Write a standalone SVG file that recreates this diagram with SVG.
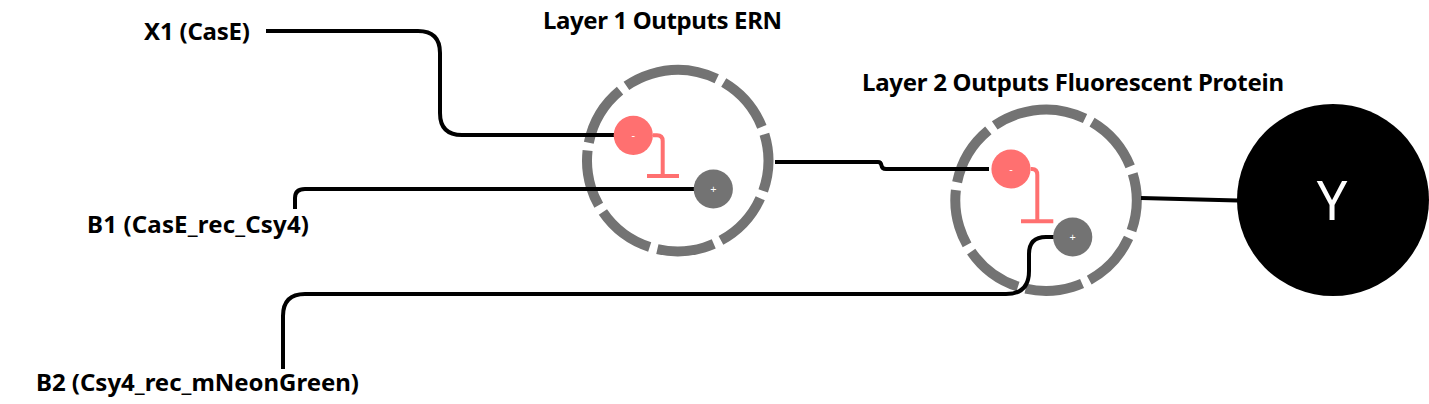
<svg xmlns="http://www.w3.org/2000/svg" width="1429" height="404" viewBox="0 0 1429 404">
<style>
.lbl{font-family:"Noto Sans","Open Sans",sans-serif;font-weight:700;font-size:24px;fill:#000}
.ring{fill:none;stroke:#737373;stroke-width:10;stroke-dasharray:36.5 5 37 5 36.5 5 37.5 5 36 5 39 5 60 5 37.5 5}
.wire{fill:none;stroke:#000;stroke-width:4}
.inh{fill:none;stroke:#ff7070;stroke-width:4}
.sign{font-family:"Noto Sans","Open Sans",sans-serif;font-size:11px;fill:#fff;text-anchor:middle}
</style>
<rect width="1429" height="404" fill="#fff"/>
<g id="layer1">
<circle class="ring" cx="677.7" cy="160.7" r="90.700" pathLength="360" transform="rotate(-17 677.7 160.7)"/>
<path class="inh" d="M653 135.3H657Q662.7 135.3 662.7 141V176"/>
<path class="inh" d="M647 176H679"/>
</g>
<g id="layer2">
<circle class="ring" cx="1046" cy="200.3" r="90.700" pathLength="360" transform="rotate(-17 1046 200.3)"/>
<path class="inh" d="M1030.7 169H1032Q1037.3 169 1037.3 175V221.3"/>
<path class="inh" d="M1021 221.3H1053.3"/>
</g>
<g id="connectors">
<path class="wire" d="M266 31H418Q440 31 440 53V113Q440 135 462 135H614"/>
<path class="wire" d="M295 209V198Q295 189 305 189H694"/>
<path class="wire" d="M775 162H878Q881 162 881.500 165.500Q882 169 886 169H989"/>
<path class="wire" d="M1141 198L1238 200.500"/>
<path class="wire" d="M283 369V316Q283 294 305 294H1006Q1029 294 1029 271V254Q1029 237 1046 237H1054"/>
</g>
<g id="x1"><text class="lbl" x="144" y="39.500" textLength="106" lengthAdjust="spacing">X1 (CasE)</text></g>
<g id="b1"><text class="lbl" x="87" y="233" textLength="222" lengthAdjust="spacing">B1 (CasE_rec_Csy4)</text></g>
<g id="b2"><text class="lbl" x="36" y="391" textLength="323" lengthAdjust="spacing">B2 (Csy4_rec_mNeonGreen)</text></g>
<g id="title1"><text class="lbl" x="543" y="29" textLength="239" lengthAdjust="spacing">Layer 1 Outputs ERN</text></g>
<g id="title2"><text class="lbl" x="862" y="91" textLength="422" lengthAdjust="spacing">Layer 2 Outputs Fluorescent Protein</text></g>
<g id="n1-minus"><circle cx="633.300" cy="135.300" r="19.600" fill="#ff7070"/><text class="sign" x="633.300" y="139">-</text></g>
<g id="n1-plus"><circle cx="713.300" cy="189" r="19.600" fill="#737373"/><text class="sign" x="713.300" y="193">+</text></g>
<g id="n2-minus"><circle cx="1011" cy="169" r="19.600" fill="#ff7070"/><text class="sign" x="1011" y="173">-</text></g>
<g id="n2-plus"><circle cx="1072.700" cy="237" r="19.600" fill="#737373"/><text class="sign" x="1072.700" y="241">+</text></g>
<g id="y"><circle cx="1333" cy="200" r="96" fill="#000"/><text x="1332" y="220" text-anchor="middle" font-family="Noto Sans,Open Sans,sans-serif" font-size="54" fill="#fff">Y</text></g>
</svg>
